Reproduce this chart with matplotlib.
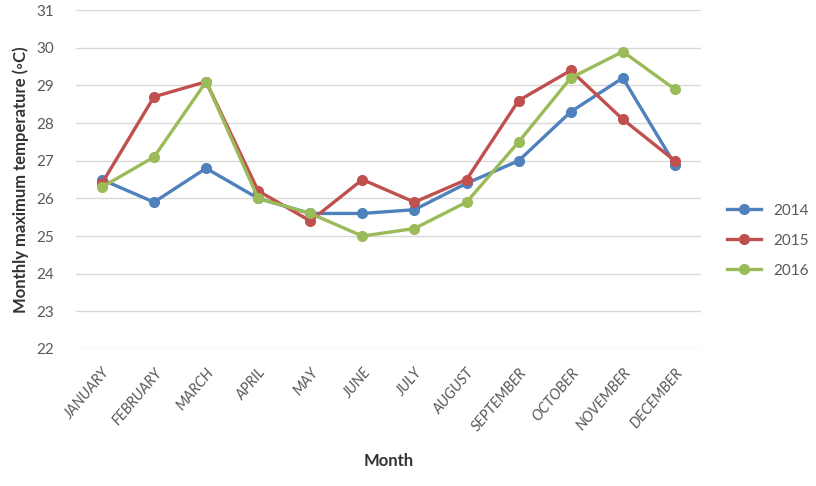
import numpy as np
import matplotlib.pyplot as plt

plt.rcParams['font.family'] = ['Lato', 'DejaVu Sans']

months = ["JANUARY", "FEBRUARY", "MARCH", "APRIL", "MAY", "JUNE", "JULY",
          "AUGUST", "SEPTEMBER", "OCTOBER", "NOVEMBER", "DECEMBER"]
t2014 = [26.5, 25.9, 26.8, 26.0, 25.6, 25.6, 25.7, 26.4, 27.0, 28.3, 29.2, 26.9]
t2015 = [26.4, 28.7, 29.1, 26.2, 25.4, 26.5, 25.9, 26.5, 28.6, 29.4, 28.1, 27.0]
t2016 = [26.3, 27.1, 29.1, 26.0, 25.6, 25.0, 25.2, 25.9, 27.5, 29.2, 29.9, 28.9]
years = ["2014", "2015", "2016"]
colors = ["#4F81BD", "#C0504D", "#9BBB59"]

fig = plt.figure(figsize=(8.16, 4.86), dpi=100)
ax = fig.add_axes([0.093, 0.282, 0.766, 0.697])

x = np.arange(len(months))
for vals, yr, c in zip([t2014, t2015, t2016], years, colors):
    ax.plot(x, vals, color=c, lw=2.4, marker="o", ms=7, label=yr)

ax.set_xlim(-0.5, len(months) - 0.5)
ax.set_ylim(22, 31)
ax.set_yticks(range(22, 32))
ax.set_xticks(x)
ax.set_xticklabels(months, rotation=50, ha="right", rotation_mode="anchor",
                   fontsize=10.5, style="italic", color="#595959")
ax.tick_params(axis="y", labelsize=11, labelcolor="#595959", length=0, pad=16)
ax.tick_params(axis="x", length=0, pad=12)
ax.grid(axis="y", color="#D9D9D9", lw=1)
ax.set_axisbelow(True)
for s in ax.spines.values():
    s.set_visible(False)

ax.set_xlabel("Month", fontsize=12, fontweight="bold", color="#333333", labelpad=14)
ax.set_ylabel("Monthly maximum temperature (◦C)", fontsize=12, fontweight="bold",
              color="#333333", labelpad=5)

leg = ax.legend(loc="center left", bbox_to_anchor=(1.02, 0.32), frameon=False,
                fontsize=11, labelspacing=1.05, handlelength=2.2)
for t in leg.get_texts():
    t.set_color("#595959")

fig.savefig("out.png", dpi=100)
